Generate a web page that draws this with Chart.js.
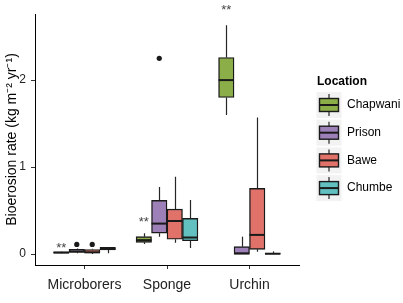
<!DOCTYPE html>
<html>
<head>
<meta charset="utf-8">
<script src="https://cdn.jsdelivr.net/npm/chart.js@4/dist/chart.umd.min.js"></script>
<style>
html, body { margin: 0; padding: 0; background: #fff; }
#wrap { width: 403px; height: 303px; }
</style>
</head>
<body>
<div id="wrap"><canvas id="chart" width="403" height="303"></canvas></div>
<script>
const categories = ['Microborers', 'Sponge', 'Urchin'];
const locations = ['Chapwani', 'Prison', 'Bawe', 'Chumbe'];
const fills = ['#8BAE49', '#9D80B8', '#E0726A', '#62C1C0'];
const yTicks = [0, 1, 2];

// box stats per category: [min, q1, median, q3, max]
const chapwani = [[0.005, 0.01, 0.017, 0.025, 0.03], [0.115, 0.135, 0.16, 0.2, 0.24], [1.6, 1.8, 2.0, 2.26, 2.63]];
const prison = [[0.01, 0.02, 0.03, 0.054, 0.065], [0.2, 0.24, 0.35, 0.617, 0.77], [0, 0, 0.005, 0.085, 0.2]];
const bawe = [[0.0, 0.012, 0.02, 0.052, 0.06], [0.13, 0.17, 0.38, 0.517, 0.89], [0.026, 0.054, 0.22, 0.755, 1.57]];
const chumbe = [[0.008, 0.046, 0.06, 0.077, 0.08], [0.07, 0.153, 0.19, 0.41, 0.62], [0, 0, 0.003, 0.01, 0.03]];
const boxStats = [chapwani, prison, bawe, chumbe];

// outliers
const outlierLoc = [1, 2, 1];
const outlierCat = [0, 0, 1];
const outlierVal = [0.11, 0.11, 2.25];

// significance marks (over Chapwani)
const sigCat = [0, 1, 2];
const sigVal = [0.07, 0.36, 2.8];
const sigText = ['**', '**', '**'];

const FONT = '"Liberation Sans", Arial, sans-serif';
const dodge = 0.75 / locations.length;
const xPos = (cat, loc) => cat + 1 + (loc - (locations.length - 1) / 2) * dodge;

const boxExtras = {
	id: 'boxExtras',
	beforeDatasetsDraw(chart) {
		const ctx = chart.ctx, y = chart.scales.y;
		ctx.save();
		ctx.strokeStyle = '#262626';
		ctx.lineWidth = 1.2;
		boxStats.forEach((stats, i) => {
			chart.getDatasetMeta(i).data.forEach((bar, j) => {
				const s = stats[j];
				const x = Math.round(bar.x) + 0.5;
				ctx.beginPath();
				ctx.moveTo(x, y.getPixelForValue(s[3]));
				ctx.lineTo(x, y.getPixelForValue(s[4]));
				ctx.moveTo(x, y.getPixelForValue(s[0]));
				ctx.lineTo(x, y.getPixelForValue(s[1]));
				ctx.stroke();
			});
		});
		ctx.restore();
	},
	afterDatasetsDraw(chart) {
		const ctx = chart.ctx, x = chart.scales.x, y = chart.scales.y;
		ctx.save();
		ctx.strokeStyle = '#1a1a1a';
		ctx.lineWidth = 2;
		boxStats.forEach((stats, i) => {
			chart.getDatasetMeta(i).data.forEach((bar, j) => {
				const m = y.getPixelForValue(stats[j][2]);
				ctx.beginPath();
				ctx.moveTo(bar.x - bar.width / 2, m);
				ctx.lineTo(bar.x + bar.width / 2, m);
				ctx.stroke();
			});
		});
		ctx.fillStyle = '#444';
		ctx.font = '13px ' + FONT;
		ctx.textAlign = 'center';
		ctx.textBaseline = 'middle';
		sigCat.forEach((c, k) => {
			ctx.fillText(sigText[k], x.getPixelForValue(xPos(c, 0)), y.getPixelForValue(sigVal[k]));
		});
		ctx.restore();
	},
	afterDraw(chart) {
		const ctx = chart.ctx;
		ctx.save();
		ctx.fillStyle = '#000';
		ctx.font = 'bold 12px ' + FONT;
		ctx.textBaseline = 'middle';
		ctx.fillText('Location', 317, 82);
		const lx = 316.5, step = 27.7;
		locations.forEach((name, k) => {
			const cy = 105 + k * step;
			ctx.fillStyle = '#F2F2F2';
			ctx.fillRect(lx, cy - 13, 25, 26);
			ctx.strokeStyle = '#262626';
			ctx.lineWidth = 1.2;
			ctx.beginPath();
			ctx.moveTo(lx + 12.5, cy - 11);
			ctx.lineTo(lx + 12.5, cy + 11);
			ctx.stroke();
			ctx.fillStyle = fills[k];
			ctx.fillRect(lx + 3, cy - 6.5, 19, 13);
			ctx.strokeStyle = '#1a1a1a';
			ctx.lineWidth = 1.4;
			ctx.strokeRect(lx + 3, cy - 6.5, 19, 13);
			ctx.lineWidth = 2;
			ctx.beginPath();
			ctx.moveTo(lx + 3, cy);
			ctx.lineTo(lx + 22, cy);
			ctx.stroke();
			ctx.fillStyle = '#000';
			ctx.font = '12px ' + FONT;
			ctx.fillText(name, 347, cy);
		});
		ctx.restore();
	}
};

const datasets = boxStats.map((stats, i) => ({
	label: locations[i],
	data: stats.map((s, j) => ({ x: xPos(j, i), y: [s[1], s[3]] })),
	backgroundColor: fills[i],
	borderColor: '#1a1a1a',
	borderWidth: 1.4,
	borderSkipped: false,
	grouped: false,
	barPercentage: 1,
	categoryPercentage: 1
}));

datasets.push({
	type: 'scatter',
	label: 'outliers',
	data: outlierVal.map((v, k) => ({ x: xPos(outlierCat[k], outlierLoc[k]), y: v })),
	pointRadius: 2.6,
	backgroundColor: '#1a1a1a',
	borderWidth: 0
});

const tickColor = '#222';

new Chart(document.getElementById('chart'), {
	type: 'bar',
	data: { datasets: datasets },
	plugins: [boxExtras],
	options: {
		responsive: false,
		animation: false,
		events: [],
		layout: { padding: { left: 0, right: 104, top: 14, bottom: 0 } },
		plugins: { legend: { display: false }, tooltip: { enabled: false } },
		scales: {
			x: {
				type: 'linear',
				offset: false,
				min: 0.4,
				max: 3.6,
				afterBuildTicks: s => { s.ticks = categories.map((c, i) => ({ value: i + 1 })); },
				afterFit: s => { s.height = 38; },
				ticks: {
					callback: v => categories[Math.round(v) - 1],
					autoSkip: false,
					maxRotation: 0,
					color: tickColor,
					font: { size: 14, family: FONT },
					padding: 7.6
				},
				grid: { offset: false, drawOnChartArea: false, drawTicks: true, tickLength: 4, color: '#333' },
				border: { display: true, color: '#000', width: 1 }
			},
			y: {
				min: -0.126,
				max: 2.76,
				afterBuildTicks: s => { s.ticks = yTicks.map(v => ({ value: v })); },
				afterFit: s => { s.width = 35; },
				ticks: {
					color: tickColor,
					font: { size: 12, family: FONT },
					padding: 5
				},
				grid: { drawOnChartArea: false, drawTicks: true, tickLength: 4, color: '#333' },
				border: { display: true, color: '#000', width: 1 },
				title: {
					display: true,
					text: 'Bioerosion rate (kg m\u207B\u00B2 yr\u207B\u00B9)',
					color: '#000',
					font: { size: 14, family: FONT },
					padding: { top: 3.6, bottom: 0 }
				}
			}
		}
	}
});
</script>
</body>
</html>
